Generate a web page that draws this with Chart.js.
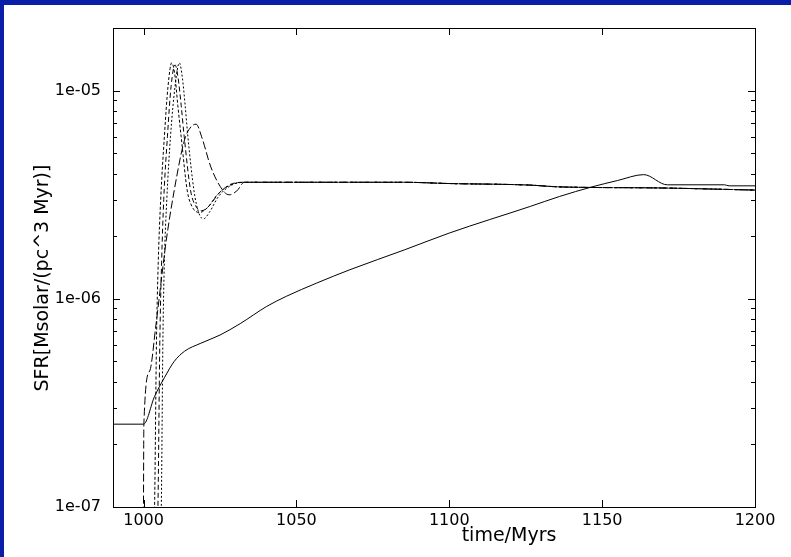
<!DOCTYPE html>
<html>
<head>
<meta charset="utf-8">
<title>SFR vs time</title>
<script src="https://cdn.jsdelivr.net/npm/chart.js@4.4.1/dist/chart.umd.min.js"></script>
<style>
  html, body { margin: 0; padding: 0; }
  body { width: 791px; height: 557px; background: #0a1ea8; position: relative; overflow: hidden; }
  #frame { position: absolute; left: 4px; top: 5px; width: 787px; height: 552px; background: #fff; }
  canvas { display: block; }
</style>
</head>
<body>
<div id="frame"><canvas id="sfrChart" width="787" height="552"></canvas></div>
<script>
// solid curve
const timeSolid = [990, 1000, 1003.6, 1006.9, 1010, 1013.4, 1018.5, 1025, 1031.6, 1040.3, 1046.8, 1056.6, 1067.5, 1085.4, 1100, 1126.5, 1136, 1146.7, 1155, 1163.6, 1171.3, 1190, 1191.5, 1200];
const sfrSolid = [2.5e-7, 2.5e-7, 3.4e-7, 4.2e-7, 5.0e-7, 5.6e-7, 6.1e-7, 6.7e-7, 7.6e-7, 9.2e-7, 1.03e-6, 1.19e-6, 1.38e-6, 1.72e-6, 2.07e-6, 2.78e-6, 3.1e-6, 3.45e-6, 3.7e-6, 3.95e-6, 3.53e-6, 3.53e-6, 3.49e-6, 3.49e-6];

// dashed runs, early part
const timeA = [1002.8, 1003.6, 1004.2, 1004.8, 1005.6, 1006.8, 1008, 1009.2, 1010.2, 1011.2, 1012.3, 1014.3, 1016, 1018.3, 1021, 1024, 1028];
const sfrA = [5e-8, 1e-7, 6e-7, 1.5e-6, 3e-6, 6e-6, 1.05e-5, 1.36e-5, 1.2e-5, 8.5e-6, 6e-6, 3.3e-6, 2.75e-6, 2.6e-6, 2.75e-6, 3.15e-6, 3.5e-6];

const timeB = [1003.8, 1004.7, 1005.3, 1005.9, 1006.6, 1007.8, 1009, 1010.3, 1011.3, 1012.3, 1013.3, 1015.4, 1017, 1019, 1021.5, 1024.5, 1028.5];
const sfrB = [5e-8, 1e-7, 6e-7, 1.5e-6, 3e-6, 6e-6, 1.05e-5, 1.33e-5, 1.15e-5, 8.5e-6, 6e-6, 3.3e-6, 2.8e-6, 2.65e-6, 2.8e-6, 3.2e-6, 3.55e-6];

const timeC = [1004.9, 1005.8, 1006.3, 1006.8, 1007.6, 1008.8, 1010.3, 1011.7, 1012.7, 1013.6, 1014.5, 1016.5, 1018, 1019.6, 1021.5, 1024.5, 1028.5];
const sfrC = [5e-8, 1e-7, 6e-7, 1.5e-6, 3e-6, 6e-6, 1.05e-5, 1.36e-5, 1.15e-5, 8.5e-6, 6e-6, 3.3e-6, 2.6e-6, 2.42e-6, 2.6e-6, 3.1e-6, 3.5e-6];

const timeD = [999.9, 1000.1, 1002, 1004, 1006, 1007.4, 1010, 1013.4, 1015.5, 1017.2, 1019, 1022, 1025.8, 1028, 1030.5];
const sfrD = [5e-8, 2.5e-7, 4.5e-7, 7.4e-7, 1.3e-6, 1.9e-6, 3.3e-6, 5.8e-6, 6.7e-6, 6.9e-6, 6e-6, 4.3e-6, 3.34e-6, 3.16e-6, 3.3e-6];

// common plateau the dashed runs settle on
const timeTail = [1033, 1085, 1100, 1126, 1136, 1168, 1200];
const sfrTail = [3.63e-6, 3.63e-6, 3.58e-6, 3.52e-6, 3.45e-6, 3.41e-6, 3.33e-6];

const xTicks = [1000, 1050, 1100, 1150, 1200];
const yTicks = [1e-7, 1e-6, 1e-5];
const yTickLabels = ['1e-07', '1e-06', '1e-05'];
const xTitle = 'time/Myrs';
const yTitle = 'SFR[Msolar/(pc^3 Myr)]';

const FONT = '"DejaVu Sans", Verdana, sans-serif';

function toPoints(t, v, withTail) {
    let pts = t.map((x, i) => ({x: x, y: v[i]}));
    if (withTail) {
        timeTail.forEach((x, i) => pts.push({x: x, y: sfrTail[i]}));
    }
    return pts;
}

function lineSet(pts, dash) {
    return {
        data: pts,
        borderColor: '#000',
        borderWidth: 1,
        borderDash: dash,
        pointRadius: 0,
        cubicInterpolationMode: 'monotone',
        fill: false
    };
}

// inward ticks on all four sides + frame + axis titles
const framePlugin = {
    id: 'framePlugin',
    afterDraw(chart) {
        const ctx = chart.ctx;
        const a = chart.chartArea;
        const xs = chart.scales.x, ys = chart.scales.y;
        ctx.save();
        ctx.strokeStyle = '#000';
        ctx.lineWidth = 1;
        ctx.strokeRect(Math.round(a.left) + 0.5, Math.round(a.top) + 0.5, Math.round(a.right - a.left), Math.round(a.bottom - a.top));
        ctx.beginPath();
        xTicks.forEach(v => {
            const px = Math.round(xs.getPixelForValue(v)) + 0.5;
            ctx.moveTo(px, a.bottom); ctx.lineTo(px, a.bottom - 7);
            ctx.moveTo(px, a.top); ctx.lineTo(px, a.top + 7);
        });
        for (let e = -7; e <= -5; e++) {
            for (let m = 1; m <= 9; m++) {
                const v = m * Math.pow(10, e);
                if (v > ys.max) continue;
                const py = Math.round(ys.getPixelForValue(v)) + 0.5;
                const len = m === 1 ? 7 : 4;
                ctx.moveTo(a.left, py); ctx.lineTo(a.left + len, py);
                ctx.moveTo(a.right, py); ctx.lineTo(a.right - len, py);
            }
        }
        ctx.stroke();

        ctx.fillStyle = '#000';
        ctx.font = '19px ' + FONT;
        ctx.textAlign = 'center';
        ctx.textBaseline = 'middle';
        ctx.fillText(xTitle, 505, 531);
        ctx.translate(39, 273);
        ctx.rotate(-Math.PI / 2);
        ctx.fillText(yTitle, 0, 0);
        ctx.restore();
    }
};

new Chart(document.getElementById('sfrChart'), {
    type: 'line',
    data: {
        datasets: [
            lineSet(toPoints(timeSolid, sfrSolid, false), []),
            lineSet(toPoints(timeA, sfrA, true), [3, 2]),
            lineSet(toPoints(timeB, sfrB, true), [5, 3]),
            lineSet(toPoints(timeC, sfrC, true), [2, 2]),
            lineSet(toPoints(timeD, sfrD, true), [8, 3])
        ]
    },
    options: {
        responsive: false,
        animation: false,
        devicePixelRatio: 1,
        layout: { padding: { top: 23, right: 36, left: 0, bottom: 0 } },
        plugins: { legend: { display: false }, tooltip: { enabled: false } },
        scales: {
            x: {
                type: 'linear',
                min: 990,
                max: 1200,
                grid: { display: false, drawTicks: false },
                border: { display: false },
                afterBuildTicks: s => { s.ticks = xTicks.map(v => ({value: v})); },
                afterFit: s => { s.height = 50; },
                ticks: { color: '#000', padding: 4, maxRotation: 0, font: { size: 16, family: FONT }, callback: v => String(v) }
            },
            y: {
                type: 'logarithmic',
                min: 1e-7,
                max: 2e-5,
                grid: { display: false, drawTicks: false },
                border: { display: false },
                afterBuildTicks: s => { s.ticks = yTicks.map(v => ({value: v})); },
                afterFit: s => { s.width = 109; },
                ticks: {
                    color: '#000',
                    padding: 12,
                    font: { size: 16, family: FONT },
                    callback: (v) => {
                        const i = yTicks.findIndex(t => Math.abs(t - v) / t < 1e-6);
                        return i >= 0 ? yTickLabels[i] : '';
                    }
                }
            }
        }
    },
    plugins: [framePlugin]
});
</script>
</body>
</html>
